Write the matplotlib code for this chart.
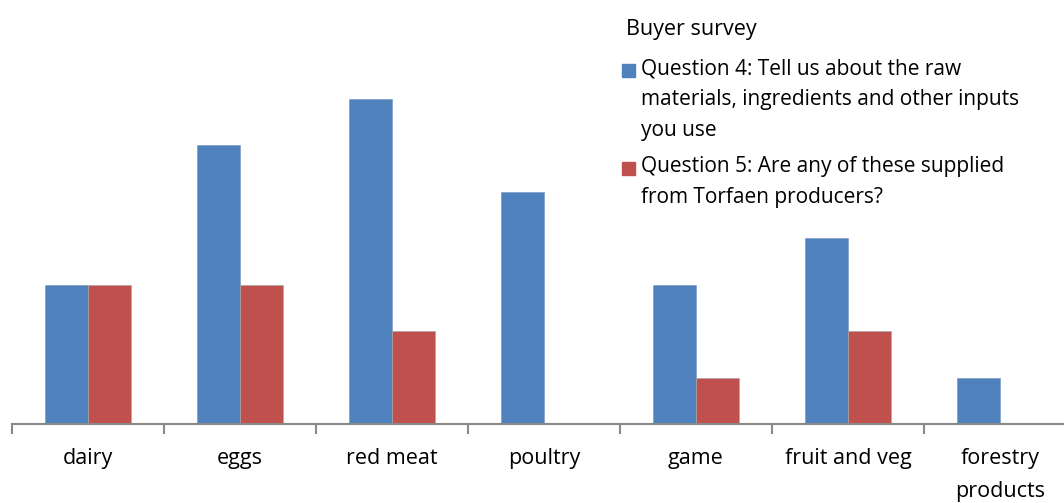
import matplotlib.pyplot as plt
import numpy as np
from matplotlib.patches import Rectangle

categories = ["dairy", "eggs", "red meat", "poultry", "game", "fruit and veg", "forestry\nproducts"]
q4 = [3, 6, 7, 5, 3, 4, 1]
q5 = [3, 3, 2, 0, 1, 2, 0]
series_names = ["Question 4: Tell us about the raw\nmaterials, ingredients and other inputs\nyou use",
                "Question 5: Are any of these supplied\nfrom Torfaen producers?"]
legend_title = "Buyer survey"

blue = "#4f81bd"
red = "#c0504d"

plt.rcParams['font.family'] = ['Open Sans', 'DejaVu Sans']

W, H = 1064, 503
fig = plt.figure(figsize=(W / 100, H / 100), dpi=100)
# axis from x=12px, one category = 152px
ax = fig.add_axes([12 / W, 1 - 424 / H, 152 * 7 / W, 424 / H])

x = np.arange(len(categories))
bw = 0.286
ax.bar(x - bw / 2, q4, bw, color=blue, edgecolor="#7f9cc4", linewidth=0.5)
ax.bar(x + bw / 2, q5, bw, color=red, edgecolor="#a8a8a8", linewidth=0.5)

ax.set_xlim(-0.5, len(categories) - 0.5)
ax.set_ylim(0, 424 / 46.5)
for s in ["top", "right", "left"]:
    ax.spines[s].set_visible(False)
ax.spines["bottom"].set_color("#888888")
ax.spines["bottom"].set_linewidth(1.5)
ax.set_yticks([])
ax.set_xticks(np.arange(len(categories) + 1) - 0.5, minor=True)
ax.set_xticks(x)
ax.set_xticklabels(categories, fontsize=15.5, linespacing=1.75)
ax.tick_params(axis="x", which="major", length=0, pad=17)
ax.tick_params(axis="x", which="minor", length=7, width=1.5, color="#888888")

# legend drawn by hand
fig.text(626 / W, 1 - 29 / H, legend_title, fontsize=15.5, va="center", ha="left")
colors = [blue, red]
tops = [70.5, 168.5]
for name, c, t in zip(series_names, colors, tops):
    fig.patches.append(Rectangle((622 / W, 1 - (t + 6.5) / H), 13 / W, 13 / H,
                                 transform=fig.transFigure, color=c))
    fig.text(641 / W, 1 - (t - 12) / H, name, fontsize=15, va="top", ha="left",
             linespacing=1.62)

fig.savefig("out.png", dpi=100)
